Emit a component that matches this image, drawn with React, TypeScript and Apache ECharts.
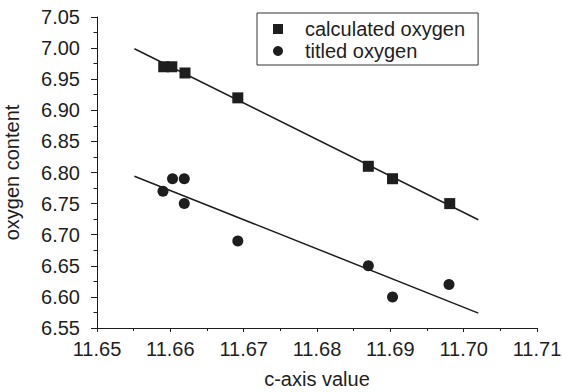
import React, { useEffect, useRef } from "react";
import * as echarts from "echarts";

const calcX = [11.6591, 11.6602, 11.662, 11.6692, 11.687, 11.6903, 11.6981];
const calcY = [6.97, 6.97, 6.96, 6.92, 6.81, 6.79, 6.75];
const titX = [11.659, 11.6603, 11.6619, 11.6619, 11.6692, 11.687, 11.6903, 11.698];
const titY = [6.77, 6.79, 6.79, 6.75, 6.69, 6.65, 6.6, 6.62];
const calcFitX = [11.6551, 11.702];
const calcFitY = [6.999, 6.724];
const titFitX = [11.6551, 11.702];
const titFitY = [6.794, 6.574];

const FONT = "'Liberation Sans', Arial, sans-serif";
const INK = "#1e1e1e";

export default function App() {
  const ref = useRef<HTMLDivElement>(null);
  useEffect(() => {
    if (!ref.current) return;
    const chart = echarts.init(ref.current, undefined, { renderer: "svg" });
    const zip = (xs: number[], ys: number[]) => xs.map((x, i) => [x, ys[i]]);
    chart.setOption({
      animation: false,
      textStyle: { fontFamily: FONT, color: INK },
      grid: { left: 97, right: 25, top: 17, bottom: 64, containLabel: false, outerBoundsMode: "none" },
      legend: {
        orient: "vertical",
        left: 257,
        top: 13,
        padding: [6, 13, 4, 16],
        itemGap: 2,
        itemWidth: 10,
        itemHeight: 10,
        borderColor: "#333",
        borderWidth: 1,
        textStyle: { fontSize: 20, fontFamily: FONT, color: INK, padding: [0, 0, 0, 17] },
        data: [
          { name: "calculated oxygen", icon: "rect" },
          { name: "titled oxygen", icon: "circle" },
        ],
      },
      xAxis: {
        type: "value",
        min: 11.65,
        max: 11.71,
        interval: 0.01,
        name: "c-axis value",
        nameLocation: "middle",
        nameGap: 41,
        nameTextStyle: { fontSize: 20, fontFamily: FONT, color: INK },
        splitLine: { show: false },
        axisLine: { show: true, onZero: false, lineStyle: { color: INK, width: 1 } },
        axisTick: { show: true, length: 4, lineStyle: { color: INK } },
        minorTick: { show: true, splitNumber: 2, length: 3, lineStyle: { color: INK } },
        axisLabel: {
          fontSize: 20,
          fontFamily: FONT,
          color: INK,
          margin: 11,
          formatter: (v: number) => v.toFixed(2),
        },
      },
      yAxis: {
        type: "value",
        min: 6.55,
        max: 7.05,
        interval: 0.05,
        name: "oxygen content",
        nameLocation: "middle",
        nameGap: 75,
        nameTextStyle: { fontSize: 20, fontFamily: FONT, color: INK },
        splitLine: { show: false },
        axisLine: { show: true, onZero: false, lineStyle: { color: INK, width: 1 } },
        axisTick: { show: true, length: 6, lineStyle: { color: INK } },
        minorTick: { show: true, splitNumber: 2, length: 3.5, lineStyle: { color: INK } },
        axisLabel: {
          fontSize: 20,
          fontFamily: FONT,
          color: INK,
          margin: 17,
          formatter: (v: number) => v.toFixed(2),
        },
      },
      series: [
        {
          name: "calcFit",
          type: "line",
          data: zip(calcFitX, calcFitY),
          symbol: "none",
          lineStyle: { color: INK, width: 1.5 },
          z: 1,
        },
        {
          name: "titFit",
          type: "line",
          data: zip(titFitX, titFitY),
          symbol: "none",
          lineStyle: { color: INK, width: 1.5 },
          z: 1,
        },
        {
          name: "calculated oxygen",
          type: "scatter",
          data: zip(calcX, calcY),
          symbol: "rect",
          symbolSize: 11,
          itemStyle: { color: INK, opacity: 1 },
          z: 3,
        },
        {
          name: "titled oxygen",
          type: "scatter",
          data: zip(titX, titY),
          symbol: "circle",
          symbolSize: 11,
          itemStyle: { color: INK, opacity: 1 },
          z: 3,
        },
      ],
    });
    return () => chart.dispose();
  }, []);
  return <div ref={ref} style={{ width: 562, height: 392, position: "absolute", left: 0, top: 0 }} />;
}
